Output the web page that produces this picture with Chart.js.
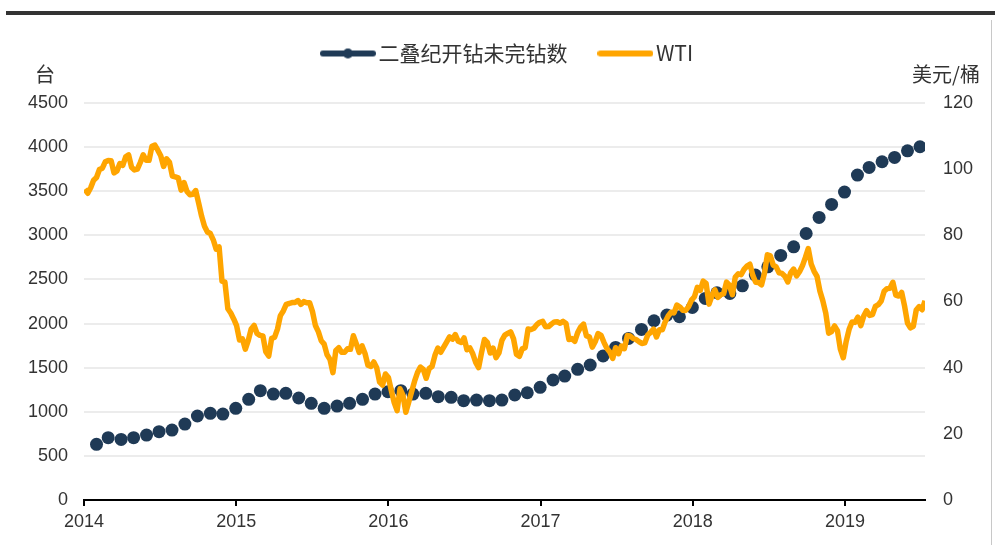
<!DOCTYPE html>
<html>
<head>
<meta charset="utf-8">
<script src="https://cdn.jsdelivr.net/npm/chart.js"></script>
<style>
  html, body { margin: 0; padding: 0; background: #fff; }
  #wrap { position: relative; width: 995px; height: 545px; overflow: hidden; }
  #wrap canvas { position: absolute; left: 0; top: 0; }
  #topbar { position: absolute; left: 6px; top: 11px; width: 989px; height: 4px; background: #333; }
  #rline { position: absolute; left: 991px; top: 20px; width: 1px; height: 525px; background: #c8c8c8; }
</style>
</head>
<body>
<div id="wrap">
  <canvas id="chart" width="995" height="545"></canvas>
  <div id="topbar"></div>
  <div id="rline"></div>
</div>
<script>
  // Labels
  const ducLabel = '二叠纪开钻未完钻数';
  const wtiLabel = 'WTI';
  const leftUnit = '台';
  const rightUnit = '美元/桶';

  // Axis ticks
  const xTickLabels = ['2014', '2015', '2016', '2017', '2018', '2019'];
  const leftTicks = [0, 500, 1000, 1500, 2000, 2500, 3000, 3500, 4000, 4500];
  const rightTicks = [0, 20, 40, 60, 80, 100, 120];

  // DUC count, monthly (month end), Jan 2014 - Jun 2019
  const ducStart = '2014-01';
  const ducValues = [
    631, 706, 687, 706, 736, 774, 793, 861, 952, 982, 974, 1039,
    1141, 1239, 1201, 1209, 1156, 1096, 1039, 1065, 1096, 1141, 1201, 1227,
    1239, 1201, 1209, 1171, 1164, 1126, 1133, 1126, 1133, 1190, 1216, 1277,
    1360, 1405, 1481, 1530, 1632, 1730, 1832, 1934, 2032, 2096, 2077, 2183,
    2285, 2349, 2341, 2428, 2549, 2643, 2772, 2870, 3021, 3203, 3350, 3490,
    3683, 3770, 3834, 3883, 3958, 4004
  ];

  // WTI, weekly (Fridays), from 2014-01-03
  const wtiStart = '2014-01-03';
  const wti2014 = [
    93.96, 92.72, 94.37, 96.64, 97.49,
    99.88, 100.30, 102.20, 102.59,
    102.58, 98.89, 99.46, 101.67,
    101.14, 103.74, 104.30, 100.60,
    99.76, 99.99, 102.02, 104.35, 102.71,
    102.66, 106.91, 107.26, 105.74,
    104.06, 100.83, 103.13, 102.09,
    97.88, 97.65, 97.35, 93.65, 95.96,
    93.29, 92.27, 92.41, 93.54,
    89.74, 85.82, 82.75, 81.01, 80.54,
    78.65, 75.82, 76.51, 66.15,
    65.84, 57.81, 56.52, 54.73
  ];
  const wti2015 = [
    52.69, 48.36, 48.69, 45.59, 48.24,
    51.69, 52.78, 50.34, 49.76,
    49.61, 44.84, 43.5, 48.87,
    49.14, 51.64, 55.74, 57.15,
    59.15, 59.39, 59.69, 59.72, 60.30,
    59.13, 59.96, 59.61, 59.63,
    56.93, 52.74, 50.89, 48.14, 47.12,
    43.87, 42.50, 38.5, 45.22,
    46.05, 44.63, 44.68, 45.70,
    45.54, 49.63, 47.26, 44.60, 46.59,
    44.29, 40.74, 40.39, 41.71,
    39.97, 35.62, 34.73, 38.10
  ];
  const wti2016 = [
    37.04, 33.16, 29.42, 27.0, 33.62,
    31.7, 26.5, 29.64, 32.78,
    35.92, 38.50, 40.2, 39.46,
    36.79, 39.72, 40.36, 43.73, 45.92,
    44.66, 46.21, 47.75, 49.33,
    48.62, 50.0, 47.98, 47.64,
    48.99, 45.41, 45.95, 44.19, 41.60,
    40.0, 44.49, 48.52, 47.64,
    44.44, 45.88, 43.03, 44.48, 48.24,
    49.81, 50.35, 50.85, 48.70,
    44.07, 43.41, 45.69, 46.06,
    51.68, 51.50, 51.90, 53.02, 53.72
  ];
  const wti2017 = [
    53.99, 52.37, 52.42, 53.17,
    53.83, 53.86, 53.40, 53.99,
    53.33, 48.49, 48.78, 47.97, 50.60,
    52.24, 53.18, 49.62, 49.33,
    46.22, 47.84, 50.33, 49.80,
    47.66, 45.83, 44.74, 42.8, 46.04,
    44.23, 46.54, 45.77, 49.71,
    49.58, 48.82, 48.51, 47.87,
    47.29, 47.48, 49.89, 50.66, 51.67,
    49.29, 51.45, 51.47, 53.90,
    55.64, 56.74, 56.55, 58.95,
    58.36, 57.36, 57.30, 58.47, 60.42
  ];
  const wti2018 = [
    61.44, 64.30, 63.37, 66.14,
    65.45, 59.20, 61.68, 63.55,
    61.25, 62.04, 62.34, 65.88, 64.94,
    62.06, 67.39, 68.38, 68.10,
    69.72, 70.70, 71.28, 67.88,
    65.81, 65.74, 65.06, 68.58, 74.15,
    73.80, 71.01, 70.46, 68.69,
    68.49, 67.63, 65.91, 68.72, 69.80,
    67.75, 68.99, 70.78, 73.25,
    76.0, 71.34, 69.12, 67.59,
    63.14, 60.19, 56.46, 50.42, 50.93,
    52.61, 51.20, 45.59, 43.0
  ];
  const wti2019 = [
    47.96, 51.59, 53.80, 53.69,
    55.26, 52.72, 55.59, 57.26,
    55.80, 56.07, 58.52, 59.04, 60.14,
    63.08, 63.89, 64.00, 65.8,
    61.94, 61.66, 62.76, 58.63, 53.50,
    52.0, 52.51, 57.43, 58.47,
    57.51, 60.21
  ];
  const wtiValues = [].concat(wti2014, wti2015, wti2016, wti2017, wti2018, wti2019);

  const DAY = 86400000;

  // date (ms, UTC) -> decimal year
  function toYear(ms) {
    const y = new Date(ms).getUTCFullYear();
    const a = Date.UTC(y, 0, 1);
    const b = Date.UTC(y + 1, 0, 1);
    return y + (ms - a) / (b - a);
  }

  function ducPoints() {
    const [y0, m0] = ducStart.split('-').map(Number);
    return ducValues.map((v, i) => {
      const end = Date.UTC(y0, m0 + i, 0); // last day of month
      return { x: toYear(end), y: v };
    });
  }

  function wtiPoints() {
    const t0 = Date.parse(wtiStart + 'T00:00:00Z');
    return wtiValues.map((v, i) => ({ x: toYear(t0 + i * 7 * DAY), y: v }));
  }

  const ducData = ducPoints();
  const wtiData = wtiPoints();
  const xMax = wtiData[wtiData.length - 1].x;

  const navy = '#1f3a56';
  const orange = '#ffa500';
  const textColor = '#333';
  const gridColor = '#ececec';

  // legend symbols: thick line, with a dot for the DUC series
  function legendIcon(color, dot) {
    const c = document.createElement('canvas');
    c.width = 56;
    c.height = 16;
    const g = c.getContext('2d');
    g.strokeStyle = color;
    g.lineWidth = 6;
    g.lineCap = 'round';
    g.beginPath();
    g.moveTo(3, 8);
    g.lineTo(53, 8);
    g.stroke();
    if (dot) {
      g.fillStyle = color;
      g.beginPath();
      g.arc(28, 8, 5, 0, Math.PI * 2);
      g.fill();
    }
    return c;
  }
  const ducIcon = legendIcon(navy, true);
  const wtiIcon = legendIcon(orange, false);

  // make room between legend and plot
  const legendSpace = {
    id: 'legendSpace',
    beforeInit(chart) {
      const fit = chart.legend.fit;
      chart.legend.fit = function () {
        fit.call(this);
        this.height = 98;
      };
    }
  };

  // unit captions above both value axes
  const unitTitles = {
    id: 'unitTitles',
    afterDraw(chart) {
      const ctx = chart.ctx;
      const a = chart.chartArea;
      ctx.save();
      ctx.font = '20px "Noto Sans CJK SC"';
      ctx.fillStyle = textColor;
      ctx.textBaseline = 'middle';
      ctx.textAlign = 'center';
      ctx.fillText(leftUnit, a.left - 39, a.top - 29);
      ctx.fillText(rightUnit, a.right + 21, a.top - 29);
      ctx.restore();
    }
  };

  const tickFont = { family: '"Liberation Sans", Arial, sans-serif', size: 18 };
  const plain = (v) => String(v);

  new Chart(document.getElementById('chart'), {
    type: 'line',
    data: {
      datasets: [
        {
          label: ducLabel,
          data: ducData,
          yAxisID: 'y',
          showLine: false,
          pointRadius: 6.5,
          pointBackgroundColor: navy,
          pointBorderWidth: 0,
          borderColor: navy,
          order: 1
        },
        {
          label: wtiLabel,
          data: wtiData,
          yAxisID: 'y1',
          borderColor: orange,
          borderWidth: 5.5,
          pointRadius: 0,
          tension: 0,
          borderJoinStyle: 'round',
          order: 0
        }
      ]
    },
    options: {
      responsive: false,
      animation: false,
      events: [],
      layout: { padding: { left: 26, right: 0, top: 5, bottom: 0 } },
      plugins: {
        tooltip: { enabled: false },
        legend: {
          position: 'top',
          labels: {
            usePointStyle: true,
            pointStyleWidth: 40,
            padding: 38,
            color: textColor,
            font: { family: '"Noto Sans CJK SC"', size: 21 },
            generateLabels: () => [
              { text: ducLabel, pointStyle: ducIcon, fillStyle: navy, strokeStyle: navy, lineWidth: 0, hidden: false, datasetIndex: 0, fontColor: textColor },
              { text: wtiLabel, pointStyle: wtiIcon, fillStyle: orange, strokeStyle: orange, lineWidth: 0, hidden: false, datasetIndex: 1, fontColor: textColor }
            ]
          }
        }
      },
      scales: {
        x: {
          type: 'linear',
          min: 2014,
          max: xMax,
          afterBuildTicks: (s) => { s.ticks = xTickLabels.map((t) => ({ value: Number(t) })); },
          afterFit: (s) => { s.height = 45; },
          ticks: {
            color: textColor,
            font: tickFont,
            padding: 5,
            maxRotation: 0,
            autoSkip: false,
            callback: plain
          },
          grid: { display: true, drawOnChartArea: false, drawTicks: true, tickLength: 6, color: '#000', lineWidth: 2 },
          border: { display: true, color: '#000', width: 2 }
        },
        y: {
          position: 'left',
          min: 0,
          max: 4500,
          afterBuildTicks: (s) => { s.ticks = leftTicks.map((v) => ({ value: v })); },
          afterFit: (s) => { s.width = 58; },
          ticks: { color: textColor, font: tickFont, padding: 16, callback: plain },
          grid: { color: gridColor, lineWidth: 2, drawTicks: false },
          border: { display: false }
        },
        y1: {
          position: 'right',
          min: 0,
          max: 120,
          afterBuildTicks: (s) => { s.ticks = rightTicks.map((v) => ({ value: v })); },
          afterFit: (s) => { s.width = 70; },
          ticks: { color: textColor, font: tickFont, padding: 18, callback: plain },
          grid: { display: false, drawTicks: false },
          border: { display: false }
        }
      }
    },
    plugins: [legendSpace, unitTitles]
  });
</script>
</body>
</html>
